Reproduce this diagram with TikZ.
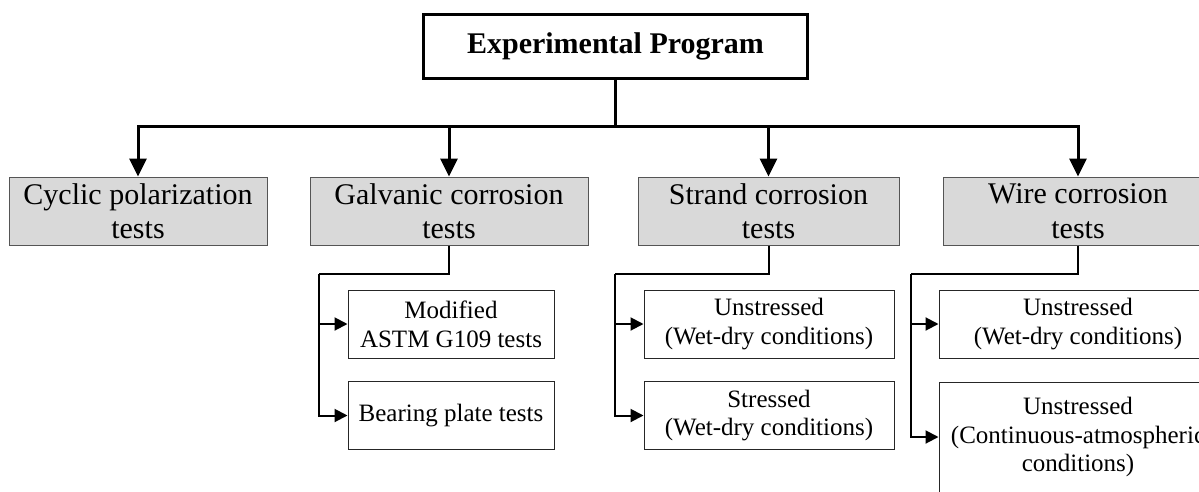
\documentclass[tikz,border=0pt]{standalone}
\usepackage{fontspec}
\setmainfont{Liberation Serif}
\usetikzlibrary{arrows.meta}
\definecolor{boxgray}{HTML}{D9D9D9}
\definecolor{edgegray}{HTML}{555555}
\tikzset{
  titlebox/.style={draw=black, line width=3pt, fill=white, inner sep=0pt, minimum width=384pt, minimum height=64pt,
    font=\fontsize{30pt}{34.5pt}\selectfont\bfseries},
  graybox/.style={draw=edgegray, line width=1pt, fill=boxgray, inner sep=0pt, minimum height=68pt, align=center,
    font=\fontsize{30pt}{34.5pt}\selectfont},
  subbox/.style={draw=black!85, line width=1pt, fill=white, inner sep=0pt, minimum height=68pt, align=center,
    font=\fontsize{25pt}{28.75pt}\selectfont},
  mainline/.style={line width=3pt},
  mainarrow/.style={line width=3pt, -{Triangle[length=18pt,width=17pt]}},
  subline/.style={line width=2pt},
  subarrow/.style={line width=2pt, -{Triangle[length=13pt,width=13pt]}},
}
\begin{document}
\begin{tikzpicture}[x=1pt,y=-1pt]
\useasboundingbox (0,0) rectangle (1199,491);
\clip (0,0) rectangle (1199,491);
\fill[white] (0,0) rectangle (1199,491);

\node[titlebox] (title) at (615.5,46.5) {Experimental Program};

\node[graybox, minimum width=258pt] (cyc) at (138,211) {Cyclic polarization\\tests};
\node[graybox, minimum width=278pt] (galv) at (449,211) {Galvanic corrosion\\tests};
\node[graybox, minimum width=261pt] (strand) at (768.5,211) {Strand corrosion\\tests};
\node[graybox, minimum width=270pt] (wire) at (1078,211) {Wire corrosion\\tests};

\node[subbox, minimum width=206pt] (m1) at (451,324) {Modified\\ASTM G109 tests};
\node[subbox, minimum width=206pt] (m2) at (451,415.5) {Bearing plate tests};
\node[subbox, minimum width=250pt] (s1) at (769,324) {Unstressed\\(Wet-dry conditions)};
\node[subbox, minimum width=250pt] (s2) at (769,415.5) {Stressed\\(Wet-dry conditions)};
\node[subbox, minimum width=278pt] (w1) at (1078,324) {Unstressed\\(Wet-dry conditions)};
\node[subbox, minimum width=278pt, minimum height=110pt] (w2) at (1078,437) {Unstressed\\(Continuous-atmospheric\\conditions)};

\coordinate (bar) at (615.5,126);
\coordinate (gj) at (319,274);
\coordinate (sj) at (615,274);
\coordinate (wj) at (911,274);

\draw[mainline] (title.south) -- (bar);
\draw[mainarrow] (bar) -| (cyc.north);
\draw[mainarrow] (bar) -| (galv.north);
\draw[mainarrow] (bar) -| (strand.north);
\draw[mainarrow] (bar) -| (wire.north);

\draw[subline] (galv.south) |- (gj);
\draw[subarrow] (gj) |- (m1.west);
\draw[subarrow] (gj) |- (m2.west);
\draw[subline] (strand.south) |- (sj);
\draw[subarrow] (sj) |- (s1.west);
\draw[subarrow] (sj) |- (s2.west);
\draw[subline] (wire.south) |- (wj);
\draw[subarrow] (wj) |- (w1.west);
\draw[subarrow] (wj) |- (w2.west);
\end{tikzpicture}
\end{document}
